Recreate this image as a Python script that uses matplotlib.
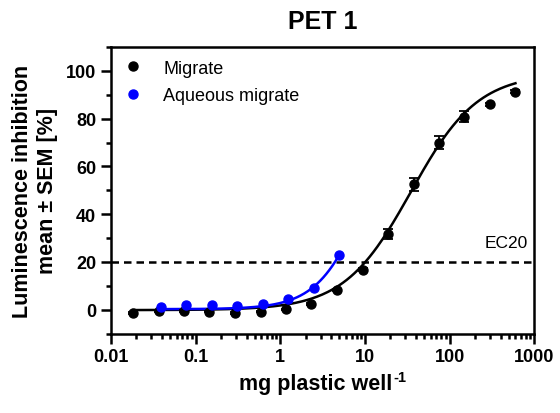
import numpy as np
import matplotlib
matplotlib.use("Agg")
import matplotlib.pyplot as plt
from matplotlib.lines import Line2D
from matplotlib.ticker import LogLocator, FixedLocator, MultipleLocator, NullFormatter

plt.rcParams['font.family'] = ['Liberation Sans', 'DejaVu Sans']

# Migrate (black)
mig_x = [0.0183, 0.0366, 0.0732, 0.146, 0.293, 0.586, 1.17, 2.34, 4.69, 9.375,
         18.75, 37.5, 75, 150, 300, 600]
mig_y = [-1.4, -0.6, -0.6, -0.8, -1.4, -0.8, 0.1, 2.2, 8.3, 16.8,
         31.7, 52.5, 70.0, 80.8, 86.0, 91.3]
mig_err = [0.3, 0.3, 0.3, 0.3, 0.3, 0.3, 0.3, 0.4, 0.5, 0.8,
           2.2, 2.7, 2.9, 2.2, 0.5, 0.5]

# Aqueous migrate (blue)
aq_x = [0.039, 0.078, 0.156, 0.3125, 0.625, 1.25, 2.5, 5.0]
aq_y = [1.1, 1.8, 1.8, 1.4, 2.2, 4.6, 9.0, 23.0]

# fitted dose-response parameters (bottom, top, EC50, hill)
mig_fit = (-0.2, 99.0, 35.0, 1.1)
aq_fit = (0.2, 100.0, 11.25, 1.5)

xticks = [0.01, 0.1, 1, 10, 100, 1000]
xticklabels = ["0.01", "0.1", "1", "10", "100", "1000"]
yticks = [0, 20, 40, 60, 80, 100]


def hill(x, p):
    b, t, ec, h = p
    return b + (t - b) / (1 + (ec / x) ** h)


fig = plt.figure(figsize=(5.6, 4.14), dpi=100)
ax = fig.add_axes([0.198, 0.192, 0.756, 0.692])

ax.axhline(20, color='black', lw=1.8, ls=(0, (3, 2)), zorder=1)

xs = np.logspace(np.log10(mig_x[0]), np.log10(mig_x[-1]), 300)
ax.plot(xs, hill(xs, mig_fit), color='black', lw=1.8, zorder=2)
xs2 = np.logspace(np.log10(aq_x[0]), np.log10(aq_x[-1]), 300)
ax.plot(xs2, hill(xs2, aq_fit), color='#0000ff', lw=1.8, zorder=3)

ax.errorbar(mig_x, mig_y, yerr=mig_err, fmt='o', color='black', ms=6.5,
            capsize=3.5, elinewidth=1.3, capthick=1.3, zorder=4)
ax.plot(aq_x, aq_y, 'o', color='#0000ff', ms=6.5, zorder=5)

ax.set_xscale('log')
ax.set_xlim(0.01, 1000)
ax.set_ylim(-10, 110)
ax.xaxis.set_major_locator(FixedLocator(xticks))
ax.set_xticklabels(xticklabels)
ax.xaxis.set_minor_locator(LogLocator(base=10, subs=np.arange(2, 10)))
ax.xaxis.set_minor_formatter(NullFormatter())
ax.yaxis.set_major_locator(FixedLocator(yticks))
ax.yaxis.set_minor_locator(MultipleLocator(10))

for s in ax.spines.values():
    s.set_linewidth(1.8)
ax.tick_params(which='major', length=7, width=1.8, labelsize=13, direction='out')
ax.tick_params(which='minor', length=3.5, width=1.8, direction='out')
for lab in ax.get_xticklabels() + ax.get_yticklabels():
    lab.set_fontweight('bold')

ax.set_title('PET 1', fontsize=18, fontweight='bold', pad=14)
xl = ax.set_xlabel('mg plastic well', fontsize=15.5, fontweight='bold', labelpad=6)
ax.set_ylabel('Luminescence inhibition\nmean \u00b1 SEM [%]', fontsize=15.5,
              fontweight='bold', labelpad=6, linespacing=1.25)

ax.text(850, 28, 'EC20', ha='right', va='center', fontsize=12.5)

handles = [Line2D([], [], ls='none', marker='o', color='black', ms=6.5),
           Line2D([], [], ls='none', marker='o', color='#0000ff', ms=6.5)]
ax.legend(handles, ['Migrate', 'Aqueous migrate'], loc='upper left', frameon=False,
          fontsize=13, handletextpad=1.2, borderaxespad=0.3, labelspacing=0.6,
          handlelength=1.0)

# superscript -1 after the x label, whole label centred under the axes
renderer = fig.canvas.get_renderer()
fig.canvas.draw()
W, H = fig.bbox.width, fig.bbox.height
sup = fig.text(0, 0, '-1', fontsize=10.5, fontweight='bold', ha='left', va='top')
sw = sup.get_window_extent(renderer).width
axw = ax.get_window_extent(renderer).width
xl.set_x(0.5 - (sw / 2) / axw)
fig.canvas.draw()
bb = xl.get_window_extent(renderer)
sup.set_position(((bb.x1 + 1) / W, (bb.y1 + 3) / H))

fig.savefig('out.png', dpi=100)
